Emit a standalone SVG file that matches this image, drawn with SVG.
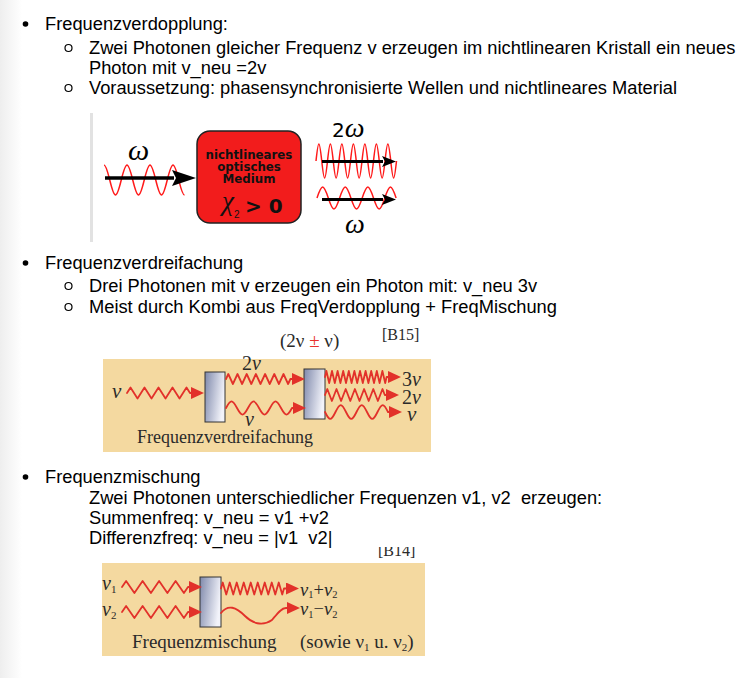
<svg xmlns="http://www.w3.org/2000/svg" width="748" height="678" viewBox="0 0 748 678">
<style>
.t{font-family:"Liberation Sans",Arial,sans-serif;font-size:18.3px;fill:#000}
.s{font-family:"Liberation Serif","Times New Roman",serif;fill:#2a2a2a}
.it{font-style:italic}
.wave{fill:none;stroke:#e2312a;stroke-width:1.8;stroke-linejoin:round;stroke-linecap:round}
.sine{fill:none;stroke:#ff1a1a;stroke-width:1.5}
.blk{stroke:#000;fill:none}
.beige{fill:#f4d9a0}
.plate{fill:url(#pg);stroke:#333;stroke-width:1}
.dot{fill:#000}
.ring{fill:none;stroke:#000;stroke-width:1.2}
</style>
<defs>
<linearGradient id="pg" x1="0" y1="0" x2="1" y2="0.3">
<stop offset="0" stop-color="#7f89ab"/>
<stop offset="1" stop-color="#f2f3fa"/>
</linearGradient>
<linearGradient id="edge" x1="0" y1="0" x2="1" y2="0">
<stop offset="0" stop-color="#eeeeee"/>
<stop offset="1" stop-color="#ffffff"/>
</linearGradient>
<marker id="ar" markerUnits="userSpaceOnUse" markerWidth="13" markerHeight="12" refX="0" refY="6" orient="auto"><path d="M0,0 L13,6 L0,12 Z" fill="#e2312a"/></marker>
<marker id="ab" markerUnits="userSpaceOnUse" markerWidth="24" markerHeight="16" refX="2" refY="8" orient="auto"><path d="M0,0 L24,8 L0,16 L4,8 Z" fill="#000"/></marker>
<marker id="abs" markerUnits="userSpaceOnUse" markerWidth="14" markerHeight="11" refX="1" refY="5.5" orient="auto"><path d="M0,0 L14,5.5 L0,11 L3,5.5 Z" fill="#000"/></marker>
<clipPath id="cb14"><rect x="370" y="547" width="60" height="15"/></clipPath>
</defs>
<rect width="748" height="678" fill="#fff"/>
<rect x="0" y="0" width="22" height="678" fill="url(#edge)"/>

<g id="text-frequenzverdopplung">
<circle class="dot" cx="25.5" cy="24" r="2.8"/>
<text class="t" x="45" y="29.5">Frequenzverdopplung:</text>
<circle class="ring" cx="68.5" cy="48" r="3.5"/>
<text class="t" x="89" y="53.5">Zwei Photonen gleicher Frequenz v erzeugen im nichtlinearen Kristall ein neues</text>
<text class="t" x="89" y="73.5">Photon mit v_neu =2v</text>
<circle class="ring" cx="68.5" cy="88" r="3.5"/>
<text class="t" x="89" y="93.5">Voraussetzung: phasensynchronisierte Wellen und nichtlineares Material</text>
</g>

<g id="text-frequenzverdreifachung">
<circle class="dot" cx="25.5" cy="263" r="2.8"/>
<text class="t" x="45" y="268.5">Frequenzverdreifachung</text>
<circle class="ring" cx="68.5" cy="286" r="3.5"/>
<text class="t" x="89" y="291.5">Drei Photonen mit v erzeugen ein Photon mit: v_neu 3v</text>
<circle class="ring" cx="68.5" cy="307" r="3.5"/>
<text class="t" x="89" y="312.5">Meist durch Kombi aus FreqVerdopplung + FreqMischung</text>
</g>

<g id="text-frequenzmischung">
<circle class="dot" cx="25.5" cy="477" r="2.8"/>
<text class="t" x="45" y="482.5">Frequenzmischung</text>
<text class="t" x="89" y="503.5" xml:space="preserve" style="white-space:pre">Zwei Photonen unterschiedlicher Frequenzen v1, v2  erzeugen:</text>
<text class="t" x="89" y="523.5">Summenfreq: v_neu = v1 +v2</text>
<text class="t" x="89" y="543.5" xml:space="preserve" style="white-space:pre">Differenzfreq: v_neu = |v1  v2|</text>
</g>

<!-- Figure 1 -->
<g id="fig1">
<rect x="90" y="113" width="3" height="129" fill="#e2e2e2"/>
<g id="medium">
<rect x="197" y="131" width="104" height="92" rx="13" fill="#f21c1c" stroke="#222" stroke-width="1.5"/>
<g font-family="'DejaVu Sans',sans-serif" font-weight="bold" font-size="11.8" fill="#111" text-anchor="middle">
<text x="249" y="159">nichtlineares</text>
<text x="249" y="171">optisches</text>
<text x="249" y="183">Medium</text>
</g>
<text x="222" y="210" font-family="'Liberation Serif',serif" font-style="italic" font-size="27" fill="#111">χ</text>
<text x="234" y="218" font-family="'Liberation Sans',sans-serif" font-size="10" fill="#111">2</text>
<text x="245" y="213" font-family="'DejaVu Sans',sans-serif" font-weight="bold" font-size="20" fill="#111">&gt; 0</text>
</g>
<text x="128" y="160" font-family="'Liberation Serif',serif" font-style="italic" font-size="30" fill="#000">ω</text>
<text x="332" y="137" fill="#000"><tspan font-family="'DejaVu Sans',sans-serif" font-size="20">2</tspan><tspan font-family="'Liberation Serif',serif" font-style="italic" font-size="28">ω</tspan></text>
<text x="345" y="233" font-family="'Liberation Serif',serif" font-style="italic" font-size="28" fill="#000">ω</text>
</g>

<!-- Figure 2 -->
<g id="fig2">
<rect class="beige" x="103" y="359" width="328" height="93"/>
<text class="s" x="280" y="347" font-size="19">(2ν <tspan fill="#e8322c">±</tspan> ν)</text>
<text class="s" x="382" y="340" font-size="16">[B15]</text>
<rect id="plate1" class="plate" x="205" y="372" width="20" height="50"/>
<rect id="plate2" class="plate" x="304" y="369" width="21" height="50"/>
<text class="s it" x="112" y="398" font-size="21">ν</text>
<text class="s" x="242" y="370" font-size="20">2<tspan class="it">ν</tspan></text>
<text class="s it" x="245" y="426" font-size="20">ν</text>
<text class="s" x="402" y="386" font-size="20">3<tspan class="it">ν</tspan></text>
<text class="s" x="402" y="404" font-size="20">2<tspan class="it">ν</tspan></text>
<text class="s it" x="407" y="421" font-size="21">ν</text>
<text class="s" x="137" y="443" font-size="18" fill="#333">Frequenzverdreifachung</text>
</g>

<!-- Figure 3 -->
<g id="fig3">
<text class="s" x="378" y="556" font-size="16" clip-path="url(#cb14)">[B14]</text>
<rect class="beige" x="102" y="563" width="323" height="93"/>
<rect id="plate3" class="plate" x="200" y="577" width="21" height="50"/>
<text class="s" x="102" y="590" font-size="20"><tspan class="it">ν</tspan><tspan font-size="11" dy="2.5">1</tspan></text>
<text class="s" x="102" y="616" font-size="20"><tspan class="it">ν</tspan><tspan font-size="11" dy="2.5">2</tspan></text>
<text class="s" x="300" y="595.5" font-size="18.5"><tspan class="it">ν</tspan><tspan font-size="10.5" dy="2.5">1</tspan><tspan dy="-2.5">+</tspan><tspan class="it">ν</tspan><tspan font-size="10.5" dy="2.5">2</tspan></text>
<text class="s" x="300" y="615" font-size="18.5"><tspan class="it">ν</tspan><tspan font-size="10.5" dy="2.5">1</tspan><tspan dy="-2.5">−</tspan><tspan class="it">ν</tspan><tspan font-size="10.5" dy="2.5">2</tspan></text>
<text class="s" x="132" y="648" font-size="19" fill="#333">Frequenzmischung</text>
<text class="s" x="300" y="648" font-size="19" fill="#333">(sowie ν<tspan font-size="11" dy="3">1</tspan><tspan dy="-3"> u. ν</tspan><tspan font-size="11" dy="3">2</tspan><tspan dy="-3">)</tspan></text>
</g>

<g id="connectors">
<!-- fig1 waves and arrows -->
<path class="sine" d="M104,165 C106.08,165 107.88,172.7 109.75,180 C114.63,200 116.37,200 121.25,180 S127.87,160 132.75,180 S139.37,200 144.25,180 S150.87,160 155.75,180 S162.37,200 167.25,180 S173.87,160 178.75,180 C180.62,187.3 182.42,195 184.5,195"/>
<path class="blk" stroke-width="3.5" d="M105,178 L174,178" marker-end="url(#ab)"/>
<path class="sine" d="M316,161 C318.44,138.3 319.31,138.3 321.75,161 S325.06,183.7 327.5,161 S330.81,138.3 333.25,161 S336.56,183.7 339,161 S342.31,138.3 344.75,161 S348.06,183.7 350.5,161 S353.81,138.3 356.25,161 S359.56,183.7 362,161 S365.31,138.3 367.75,161 S371.06,183.7 373.5,161 S376.81,138.3 379.25,161 S382.56,183.7 385,161 S388.31,138.3 390.75,161 S394.06,183.7 396.5,161"/>
<path class="blk" stroke-width="3" d="M322,161.5 L383,161.5" marker-end="url(#abs)"/>
<path class="sine" d="M317,198 C321.8,183.3 323.5,183.3 328.3,198 S334.8,212.7 339.6,198 S346.1,183.3 350.9,198 S357.4,212.7 362.2,198 S368.7,183.3 373.5,198 S380,212.7 384.8,198 S391.3,183.3 396.1,198"/>
<path class="blk" stroke-width="3" d="M322,199.5 L383,199.5" marker-end="url(#abs)"/>
<!-- fig2 -->
<polyline class="wave" marker-end="url(#ar)" points="127,393 130.5,387.5 137.5,398.5 144.5,387.5 151.5,398.5 158.5,387.5 165.5,398.5 172.5,387.5 179.5,398.5 186.5,387.5 190,393 191,393"/>
<polyline class="wave" marker-end="url(#ar)" points="226,379 228.3,374 232.9,384 237.5,374 242.1,384 246.7,374 251.3,384 255.9,374 260.5,384 265.1,374 269.7,384 274.3,374 278.9,384 283.5,374 288.1,384 290.4,379 292,379"/>
<path class="wave" marker-end="url(#ar)" d="M226,408 C230.67,399.3 232.33,399.3 237,408 S243.33,416.7 248,408 S254.33,399.3 259,408 S265.33,416.7 270,408 S276.33,399.3 281,408 S287.33,416.7 292,408 L293,408"/>
<polyline class="wave" marker-end="url(#ar)" points="325,377 326.4,371 329.2,383 332,371 334.8,383 337.6,371 340.4,383 343.2,371 346,383 348.8,371 351.6,383 354.4,371 357.2,383 360,371 362.8,383 365.6,371 368.4,383 371.2,371 374,383 376.8,371 379.6,383 382.4,371 385.2,383 386.6,377 388,377"/>
<polyline class="wave" marker-end="url(#ar)" points="325,395 327.3,389 331.9,401 336.5,389 341.1,401 345.7,389 350.3,401 354.9,389 359.5,401 364.1,389 368.7,401 373.3,389 377.9,401 382.5,389 384.8,395 386,395"/>
<path class="wave" marker-end="url(#ar)" d="M325,412 C329.46,421.3 331.04,421.3 335.5,412 S341.54,402.7 346,412 S352.04,421.3 356.5,412 S362.54,402.7 367,412 S373.04,421.3 377.5,412 S383.54,402.7 388,412 L389,412"/>
<!-- fig3 -->
<polyline class="wave" marker-end="url(#ar)" points="122,587 126.1,581 134.4,593 142.6,581 150.9,593 159.1,581 167.4,593 175.6,581 183.9,593 188,587 189,587"/>
<polyline class="wave" marker-end="url(#ar)" points="122,612 126.1,606 134.4,618 142.6,606 150.9,618 159.1,606 167.4,618 175.6,606 183.9,618 188,612 189,612"/>
<polyline class="wave" marker-end="url(#ar)" points="221,588.5 222.75,582.5 226.25,594.5 229.75,582.5 233.25,594.5 236.75,582.5 240.25,594.5 243.75,582.5 247.25,594.5 250.75,582.5 254.25,594.5 257.75,582.5 261.25,594.5 264.75,582.5 268.25,594.5 271.75,582.5 275.25,594.5 278.75,582.5 282.25,594.5 284,588.5 286,588.5"/>
<path class="wave" marker-end="url(#ar)" d="M221,613 C228,604 236,607 245,616 C252,623 262,627 272,620 C277,614 281,608 286,608 L287,608"/>
</g>
</svg>
